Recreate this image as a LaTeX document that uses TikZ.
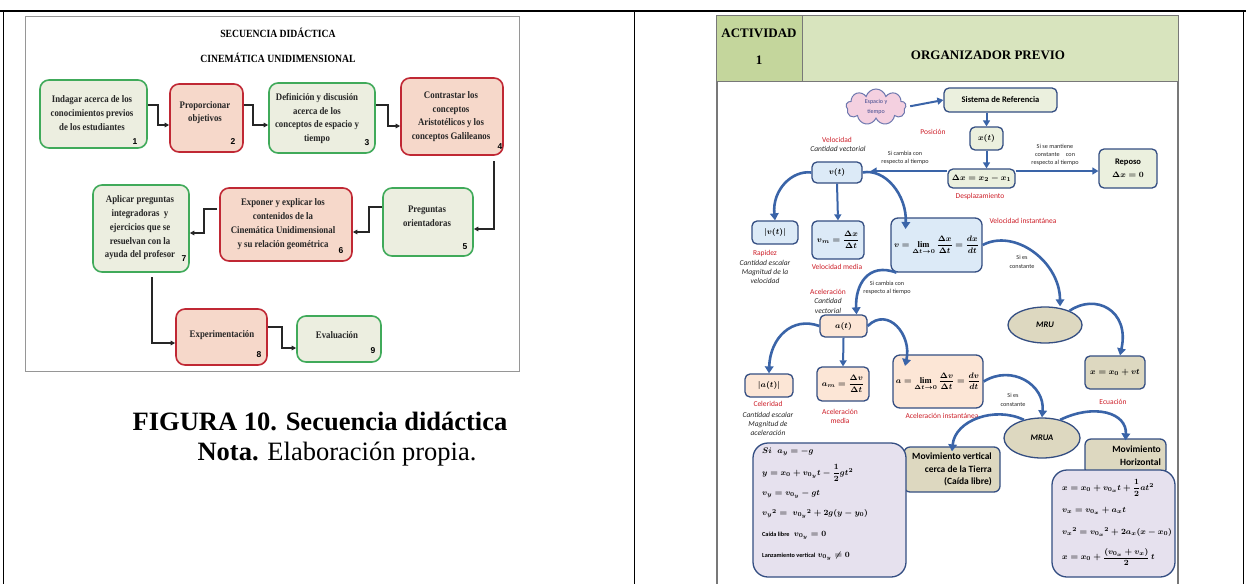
\documentclass[tikz,border=0pt]{standalone}
\usepackage{fontspec}
\setmainfont{Liberation Serif}
\newfontfamily\carl{Carlito}
\newfontfamily\cserif[FakeStretch=0.88]{Liberation Serif}
\newfontfamily\lsans{Liberation Sans}
\usetikzlibrary{arrows.meta,shapes.geometric,shapes.symbols}
\definecolor{gborder}{RGB}{64,170,90}
\definecolor{gfill}{RGB}{236,238,224}
\definecolor{rborder}{RGB}{192,40,52}
\definecolor{rfill}{RGB}{246,216,202}
\definecolor{frameg}{RGB}{150,150,150}
\definecolor{hdrb}{RGB}{120,120,120}
\definecolor{actf}{RGB}{196,214,156}
\definecolor{orgf}{RGB}{216,228,190}
\definecolor{arrb}{RGB}{58,100,168}
\definecolor{boxb}{RGB}{52,78,130}
\definecolor{grnf}{RGB}{235,240,222}
\definecolor{bluf}{RGB}{220,234,247}
\definecolor{pchf}{RGB}{252,230,214}
\definecolor{tanf}{RGB}{221,216,192}
\definecolor{lavf}{RGB}{230,225,238}
\definecolor{cloudf}{RGB}{244,208,224}
\definecolor{cloudb}{RGB}{110,120,175}
\definecolor{cloudt}{RGB}{60,70,140}
\definecolor{redl}{RGB}{205,30,40}
\definecolor{txtd}{RGB}{40,40,40}
\begin{document}
\begin{tikzpicture}[x=1pt,y=-1pt,
  gbox/.style={draw=gborder, fill=gfill, line width=1.6pt, rounded corners=9pt, inner sep=0pt},
  rbox/.style={draw=rborder, fill=rfill, line width=1.6pt, rounded corners=9pt, inner sep=0pt},
  btxt/.style={font=\cserif\bfseries\fontsize{10}{13.8}\selectfont, align=center, inner sep=0pt, text=black!85},
  bnum/.style={font=\lsans\bfseries\fontsize{8.5}{9}\selectfont, inner sep=0pt},
  elb/.style={draw=black!85, line width=1.3pt, -{Triangle[length=4.5pt,width=4.5pt]}},
  pbox/.style={draw=boxb, line width=1.3pt, rounded corners=5pt, inner sep=1pt},
  lab/.style={font=\carl\fontsize{7.5}{9}\selectfont, text=redl, inner sep=0pt, align=center},
  ital/.style={font=\carl\itshape\fontsize{7.5}{9.2}\selectfont, text=txtd, inner sep=0pt, align=center},
  smalltxt/.style={font=\carl\fontsize{6.2}{8.3}\selectfont, text=txtd, inner sep=0pt, align=center},
  eqn/.style={font=\fontsize{8.5}{10}\selectfont\boldmath, inner sep=0pt},
  eqs/.style={font=\fontsize{8.2}{10}\selectfont\boldmath, inner sep=0pt},
  carrow/.style={draw=arrb, line width=2.6pt, -{Triangle[length=7pt,width=8.5pt]}},
  sarrow/.style={draw=arrb, line width=2pt, -{Triangle[length=6pt,width=7pt]}},
  hdr/.style={draw=hdrb, line width=1pt, inner sep=0pt},
  htxt/.style={font=\bfseries\fontsize{13}{15}\selectfont, inner sep=0pt}
]
\useasboundingbox (0,0) rectangle (1246,584);
\fill[white] (0,0) rectangle (1246,584);
% outer table
\draw[line width=2pt] (0,11) -- (1246,11);
\draw[line width=0.8pt] (3,11) -- (3,584) (634,11) -- (634,584) (1243,11) -- (1243,584);

% ================= LEFT PANEL =================
\draw[frameg, line width=0.8pt] (25,16) rectangle (519,371);
\node[font=\cserif\bfseries\fontsize{11}{12}\selectfont, inner sep=0pt] (tit1) at (278,33) {SECUENCIA DIDÁCTICA};
\node[font=\cserif\bfseries\fontsize{11}{12}\selectfont, inner sep=0pt] (tit2) at (278,58) {CINEMÁTICA UNIDIMENSIONAL};

\node[gbox, minimum width=107pt, minimum height=68pt] (b1) at (93.5,114) {};
\node[rbox, minimum width=73pt, minimum height=68pt] (b2) at (206.5,118) {};
\node[gbox, minimum width=106pt, minimum height=70pt] (b3) at (322,118) {};
\node[rbox, minimum width=102pt, minimum height=77pt] (b4) at (452,116.5) {};
\node[gbox, minimum width=90pt, minimum height=68pt] (b5) at (428,222) {};
\node[rbox, minimum width=132pt, minimum height=73pt] (b6) at (286,224.5) {};
\node[gbox, minimum width=96pt, minimum height=87pt] (b7) at (141,228.5) {};
\node[rbox, minimum width=91pt, minimum height=56pt] (b8) at (221.5,337) {};
\node[gbox, minimum width=84pt, minimum height=46pt] (b9) at (339,339) {};

\node[btxt] (t1) at (92,113) {Indagar acerca de los\\conocimientos previos\\de los estudiantes};
\node[btxt] (t2) at (205,112.5) {Proporcionar\\objetivos};
\node[btxt] (t3) at (317,118.5) {Definición y discusión\\acerca de los\\conceptos de espacio y\\tiempo};
\node[btxt] (t4) at (451,116.5) {Contrastar los\\conceptos\\Aristotélicos y los\\conceptos Galileanos};
\node[btxt] (t5) at (427,216) {Preguntas\\orientadoras};
\node[btxt] (t6) at (283,224) {Exponer y explicar los\\contenidos de la\\Cinemática Unidimensional\\y su relación geométrica};
\node[btxt] (t7) at (140,228) {Aplicar preguntas\\integradoras~ y\\ejercicios que se\\resuelvan con la\\ayuda del profesor};
\node[btxt] (t8) at (222,335) {Experimentación};
\node[btxt] (t9) at (337,335) {Evaluación};

\node[bnum] (n1) at (135,142) {1};
\node[bnum] (n2) at (233,142) {2};
\node[bnum] (n3) at (367,143) {3};
\node[bnum] (n4) at (500,147) {4};
\node[bnum] (n5) at (465,247) {5};
\node[bnum] (n6) at (341,251) {6};
\node[bnum] (n7) at (184,259) {7};
\node[bnum] (n8) at (259,355) {8};
\node[bnum] (n9) at (373,351) {9};

\draw[elb] (b1.east |- 0,105) -- (158,105) -- (158,125) -- (b2.west |- 0,125);
\draw[elb] (b2.east |- 0,105) -- (253,105) -- (253,125) -- (b3.west |- 0,125);
\draw[elb] (b3.east |- 0,105) -- (388,105) -- (388,126) -- (b4.west |- 0,126);
\draw[elb] (494,161) -- (494,229) -- (b5.east |- 0,229);
\draw[elb] (b5.west |- 0,207) -- (369,207) -- (369,232) -- (b6.east |- 0,232);
\draw[elb] (217,209) -- (204,209) -- (204,233) -- (b7.east |- 0,233);
\draw[elb] (152,277) -- (152,343) -- (b8.west |- 0,343);
\draw[elb] (b8.east |- 0,327) -- (282,327) -- (282,348) -- (b9.west |- 0,348);

% caption
\node[font=\bfseries\fontsize{26.5}{30}\selectfont, anchor=base, inner sep=0pt] (cap1) at (320,430) {FIGURA 10. Secuencia didáctica};
\node[font=\fontsize{26.5}{30}\selectfont, anchor=base, inner sep=0pt] (cap2) at (337,460) {\textbf{Nota.} Elaboración propia.};

% ================= RIGHT PANEL =================
\draw[hdrb, line width=1.2pt] (717,81) -- (717,584) (1178,81) -- (1178,584);
\node[hdr, fill=actf, minimum width=86pt, minimum height=66pt] (act) at (759,48) {};
\node[hdr, fill=orgf, minimum width=376pt, minimum height=66pt] (org) at (990,48) {};
\node[htxt] (actt) at (759,33) {ACTIVIDAD};
\node[htxt] (actn) at (759,60) {1};
\node[htxt] (orgt) at (988,55) {ORGANIZADOR PREVIO};

% nodes
\node[cloud, cloud puffs=9, aspect=1.7, draw=cloudb, fill=cloudf, line width=1pt, minimum width=60pt, minimum height=36pt, inner sep=0pt, font=\carl\fontsize{6}{9.5}\selectfont, text=cloudt, align=center] (cloud) at (876,107) {Espacio y\\tiempo};
\node[pbox, fill=grnf, minimum width=113pt, minimum height=24pt, font=\carl\bfseries\fontsize{8.5}{10}\selectfont] (sref) at (1000.5,100) {Sistema de Referencia};
\node[pbox, fill=grnf, minimum width=33pt, minimum height=23pt, eqn] (xt) at (986.5,138.5) {$x(t)$};
\node[pbox, fill=grnf, minimum width=67pt, minimum height=19pt, eqn] (dx) at (981.5,178.5) {$\Delta x = x_2 - x_1$};
\node[pbox, fill=grnf, minimum width=58pt, minimum height=39pt, align=center, font=\carl\bfseries\fontsize{8.5}{10}\selectfont\boldmath] (rep) at (1128,168.5) {Reposo\\[3pt]$\Delta x = 0$};

\node[pbox, fill=bluf, minimum width=50pt, minimum height=21pt, eqn] (vt) at (837,172.5) {$v(t)$};
\node[pbox, fill=bluf, minimum width=46pt, minimum height=23pt, eqn] (absv) at (775,232.5) {$|v(t)|$};
\node[pbox, fill=bluf, minimum width=52pt, minimum height=38pt, eqn] (vm) at (838,240) {$\displaystyle v_m = \frac{\Delta x}{\Delta t}$};
\node[pbox, fill=bluf, minimum width=91pt, minimum height=54pt, eqn, rounded corners=7pt] (vlim) at (936.5,245) {$\displaystyle v = \lim_{\Delta t\to 0}\frac{\Delta x}{\Delta t} = \frac{dx}{dt}$};

\node[pbox, fill=pchf, minimum width=47pt, minimum height=22pt, eqn] (acc) at (843.5,326) {$a(t)$};
\node[pbox, fill=pchf, minimum width=48pt, minimum height=23pt, eqn] (absa) at (769,385.5) {$|a(t)|$};
\node[pbox, fill=pchf, minimum width=52pt, minimum height=34pt, eqn] (am) at (843,384) {$\displaystyle a_m = \frac{\Delta v}{\Delta t}$};
\node[pbox, fill=pchf, minimum width=90pt, minimum height=53pt, eqn, rounded corners=7pt] (alim) at (938,381.5) {$\displaystyle a = \lim_{\Delta t\to 0}\frac{\Delta v}{\Delta t} = \frac{dv}{dt}$};

\node[ellipse, draw=boxb, line width=1.3pt, fill=tanf, minimum width=74pt, minimum height=36pt, inner sep=0pt, font=\carl\bfseries\itshape\fontsize{8.5}{10}\selectfont] (mru) at (1045,325) {MRU};
\node[pbox, fill=tanf, minimum width=60pt, minimum height=33pt, eqn] (xeq) at (1115,372.5) {$x = x_0 + vt$};
\node[ellipse, draw=boxb, line width=1.3pt, fill=tanf, minimum width=76pt, minimum height=40pt, inner sep=0pt, font=\carl\bfseries\itshape\fontsize{8.5}{10}\selectfont] (mrua) at (1042,438) {MRUA};

\node[pbox, fill=tanf, minimum width=96pt, minimum height=45pt, rounded corners=6pt, align=right, font=\carl\bfseries\fontsize{9.5}{12.5}\selectfont] (mvert) at (952,469.5) {Movimiento vertical\\cerca de la Tierra\\(Caída libre)};
\node[pbox, fill=lavf, minimum width=153pt, minimum height=134pt, rounded corners=15pt] (veq) at (829.5,510) {};
\node[pbox, fill=tanf, minimum width=81pt, minimum height=36pt, rounded corners=6pt] (mhor) at (1125.5,457) {};
\node[font=\carl\bfseries\fontsize{9.5}{12.5}\selectfont, align=right, inner sep=0pt, anchor=north east] (mhort) at (1161,446) {Movimiento\\Horizontal};
\node[pbox, fill=lavf, minimum width=123pt, minimum height=107pt, rounded corners=15pt] (heq) at (1113.5,523.5) {};

% equation lines
\node[eqn, anchor=west] (ve1) at (762,452) {$Si\;\; a_y = -g$};
\node[eqn, anchor=west] (ve2) at (762,473) {$y = x_0 + v_{0_y}t - {\displaystyle\frac{1}{2}}gt^2$};
\node[eqn, anchor=west] (ve3) at (762,494) {$v_y = v_{0_y} - gt$};
\node[eqn, anchor=west] (ve4) at (762,514) {$v_y{}^2 = \; v_{0_y}{}^2 + 2g(y - y_0)$};
\node[eqn, anchor=west] (ve5) at (762,535) {{\carl\bfseries\fontsize{6.2}{7}\selectfont Caída libre}\; $v_{0_y} = 0$};
\node[eqn, anchor=west] (ve6) at (762,556) {{\carl\bfseries\fontsize{6.2}{7}\selectfont Lanzamiento vertical} $v_{0_y} \neq 0$};

\node[eqs, anchor=west] (he1) at (1062,488) {$x = x_0 + v_{0_x}t + {\displaystyle\frac{1}{2}}at^2$};
\node[eqs, anchor=west] (he2) at (1062,511) {$v_x = v_{0_x} + a_x t$};
\node[eqs, anchor=west] (he3) at (1062,532) {$v_x{}^2 = v_{0_x}{}^2 + 2a_x(x - x_0)$};
\node[eqs, anchor=west] (he4) at (1062,557) {$\displaystyle x = x_0 + \frac{(v_{0_x} + v_x)}{2}\,t$};

% labels
\node[lab] (posic) at (933,132) {Posición};
\node[lab] (desp) at (980,196) {Desplazamiento};
\node[smalltxt] (srep) at (1055,155) {Si se mantiene\\constante\quad con\\respecto al tiempo};
\node[lab] (vel) at (837,140) {Velocidad};
\node[ital] (velcv) at (838,149) {Cantidad vectorial};
\node[smalltxt] (scr1) at (905,157.5) {Si cambia con\\respecto al tiempo};
\node[lab] (rap) at (765,253) {Rapidez};
\node[ital] (rapt) at (765,272) {Cantidad escalar\\Magnitud de la\\velocidad};
\node[lab] (velmed) at (837,267) {Velocidad media};
\node[lab] (velinst) at (1023,221) {Velocidad instantánea};
\node[smalltxt] (sie1) at (1022,262) {Si es\\constante};
\node[smalltxt] (scr2) at (887,288) {Si cambia con\\respecto al tiempo};
\node[lab] (acel) at (828,292) {Aceleración};
\node[ital] (acelt) at (828,306) {Cantidad\\vectorial};
\node[lab] (cel) at (768,404) {Celeridad};
\node[ital] (celt) at (768,424) {Cantidad escalar\\Magnitud de\\aceleración};
\node[lab] (acmed) at (840,416) {Aceleración\\media};
\node[lab] (acinst) at (942,416) {Aceleración instantánea};
\node[smalltxt] (sie2) at (1013,400) {Si es\\constante};
\node[lab] (ecu) at (1113,402) {Ecuación};

% straight arrows
\draw[sarrow, shorten <=4pt] (cloud.east) -- (sref.west);
\draw[sarrow] (xt.north |- sref.south) -- (xt.north);
\draw[sarrow] (xt.south) -- (xt.south |- dx.north);
\draw[sarrow] (dx.east |- 0,171) -- (rep.west |- 0,171);
\draw[sarrow, shorten >=8pt] (dx.west |- 0,171) -- (vt.east |- 0,171);
\draw[sarrow] (vt.south) -- (vm.north);
\draw[sarrow] (acc.south) -- (am.north);

% curved arrows
\draw[carrow] (vt.west) .. controls (792,170) and (772,190) .. (absv.north);
\draw[carrow] (vt.east) .. controls (885,168) and (907,195) .. (905.5,229);
\draw[carrow] ([xshift=-40pt]vlim.south) .. controls (868,262) and (855,285) .. ([xshift=13pt]acc.north);
\draw[carrow] (acc.west) .. controls (792,316) and (770,338) .. (absa.north);
\draw[carrow] (acc.east) .. controls (888,306) and (912,335) .. (905,366);
\draw[carrow] (vlim.east) .. controls (1015,228) and (1060,262) .. ([xshift=15pt]mru.north);
\draw[carrow] (mru.30) .. controls (1095,293) and (1130,310) .. ([xshift=5pt]xeq.north);
\draw[carrow] (alim.east) .. controls (1012,364) and (1045,385) .. (mrua.north);
\draw[carrow] (mrua.135) .. controls (995,406) and (955,420) .. ([yshift=-5pt]mvert.north);
\draw[carrow] (mrua.45) .. controls (1095,403) and (1127,413) .. ([yshift=-2pt]mhor.north);
\end{tikzpicture}
\end{document}
